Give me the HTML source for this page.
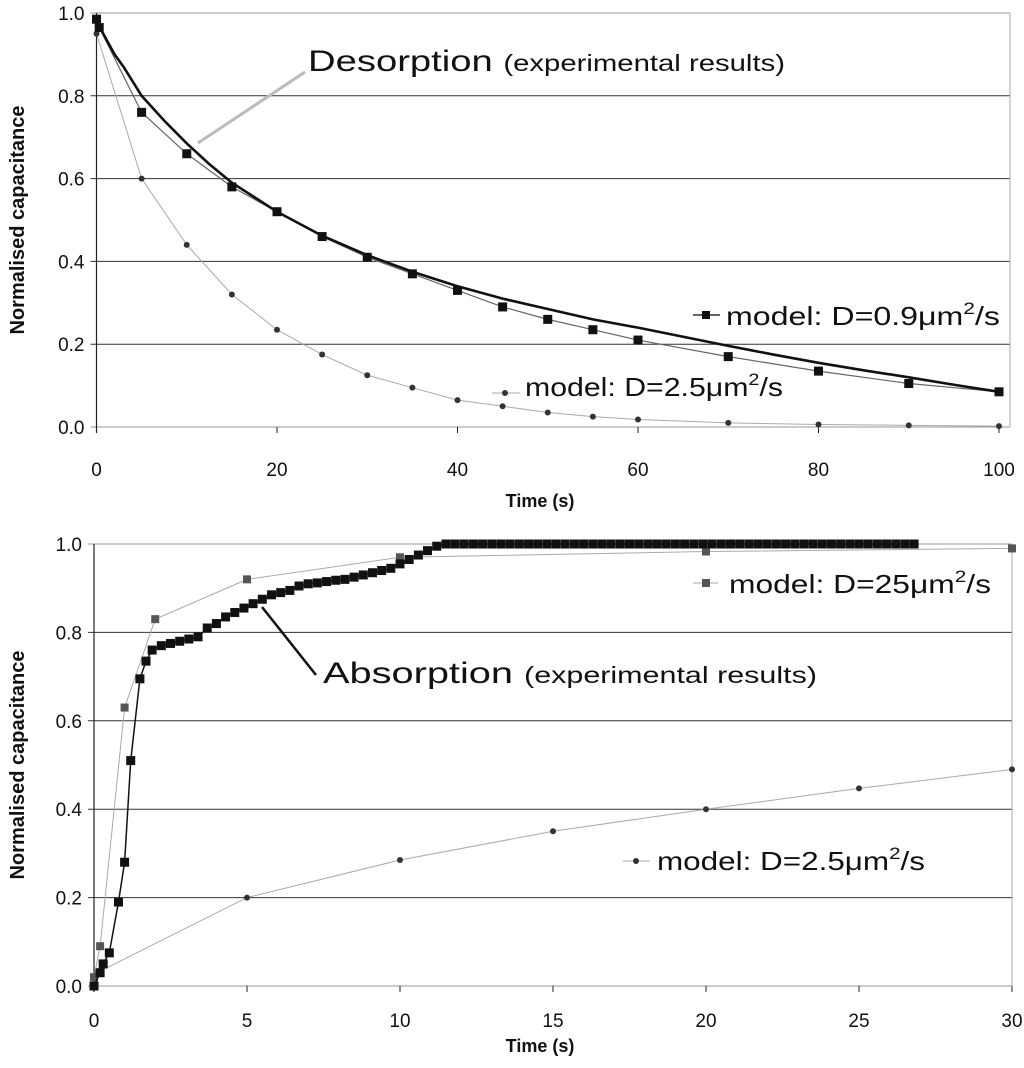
<!DOCTYPE html>
<html><head><meta charset="utf-8"><style>
body{margin:0;background:#fff;}
svg text{font-family:"Liberation Sans",sans-serif;}
</style></head><body>
<svg id="c" width="1024" height="1063" xmlns="http://www.w3.org/2000/svg"></svg>
<script>
// ---- Top chart data (desorption) ----
const topExpT=[0,1,2,3,5,7.5,10,12.5,15,20,25,30,35,40,45,50,55,60,65,70,75,80,85,90,95,100];
const topExpV=[0.98,0.94,0.90,0.87,0.80,0.74,0.685,0.635,0.59,0.52,0.462,0.415,0.375,0.34,0.31,0.285,0.26,0.24,0.218,0.196,0.175,0.155,0.137,0.12,0.102,0.085];
const topM09T=[0,0.3,5,10,15,20,25,30,35,40,45,50,55,60,70,80,90,100];
const topM09V=[0.985,0.965,0.76,0.66,0.58,0.52,0.46,0.41,0.37,0.33,0.29,0.26,0.235,0.21,0.17,0.135,0.105,0.085];
const topM25T=[0,5,10,15,20,25,30,35,40,45,50,55,60,70,80,90,100];
const topM25V=[0.95,0.60,0.44,0.32,0.235,0.175,0.125,0.095,0.065,0.05,0.035,0.025,0.018,0.01,0.006,0.004,0.002];
const topXTicks=[0,20,40,60,80,100];
const yTicks=[0,0.2,0.4,0.6,0.8,1.0];
// ---- Bottom chart data (absorption) ----
const botExpT=[0,0.2,0.3,0.5,0.8,1.0,1.2,1.5,1.7,1.9,2.2,2.5,2.8,3.1,3.4,3.7,4.0,4.3,4.6,4.9,5.2,5.5,5.8,6.1,6.4,6.7,7.0,7.3,7.6,7.9,8.2,8.5,8.8,9.1,9.4,9.7,10.0,10.3,10.6,10.9,11.2,11.5,11.8,12.1,12.4,12.7,13,13.3,13.6,13.9,14.2,14.5,14.8,15.1,15.4,15.7,16,16.3,16.6,16.9,17.2,17.5,17.8,18.1,18.4,18.7,19,19.3,19.6,19.9,20.2,20.5,20.8,21.1,21.4,21.7,22,22.3,22.6,22.9,23.2,23.5,23.8,24.1,24.4,24.7,25,25.3,25.6,25.9,26.2,26.5,26.8];
const botExpV=[0,0.03,0.05,0.075,0.19,0.28,0.51,0.695,0.735,0.76,0.77,0.775,0.78,0.785,0.79,0.81,0.82,0.835,0.845,0.855,0.865,0.875,0.885,0.89,0.895,0.905,0.91,0.912,0.915,0.918,0.92,0.925,0.93,0.935,0.94,0.945,0.955,0.965,0.975,0.985,0.995,1,1,1,1,1,1,1,1,1,1,1,1,1,1,1,1,1,1,1,1,1,1,1,1,1,1,1,1,1,1,1,1,1,1,1,1,1,1,1,1,1,1,1,1,1,1,1,1,1,1,1,1];
const botM25T=[0,0.2,1.0,2,5,10,20,30];
const botM25V=[0.02,0.09,0.63,0.83,0.92,0.97,0.983,0.99];
const botM2T=[0,0.1,5,10,15,20,25,30];
const botM2V=[0.02,0.03,0.20,0.285,0.35,0.40,0.447,0.49];
const botXTicks=[0,5,10,15,20,25,30];

const NS="http://www.w3.org/2000/svg";
const svg=document.getElementById('c');
function mk(tag,attrs,parent){const e=document.createElementNS(NS,tag);for(const k in attrs)e.setAttribute(k,attrs[k]);(parent||svg).appendChild(e);return e;}

function axes(L,R,T,B,xmax){
  return {x:v=>L+(R-L)*v/xmax,y:v=>B-(B-T)*v};
}
function frame(L,R,T,B,ax,xt,g,xoff){
  for(const t of yTicks){
    const l=mk('line',{x1:L-6,x2:R,y1:ax.y(t),y2:ax.y(t),stroke:t==0||t==1?'#999':'#333','stroke-width':1},g);
    
    
    const tx=mk('text',{x:L-12,y:ax.y(t)+7,'text-anchor':'end','font-size':19,fill:'#111'},g);
    tx.textContent=t.toFixed(1);
    
    
  }
  mk('line',{x1:R,x2:R,y1:T,y2:B,stroke:'#aaa'},g);
  mk('line',{x1:L,x2:L,y1:T,y2:B+6,stroke:'#222','stroke-width':1.2},g);
  for(const t of xt){
    mk('line',{x1:ax.x(t),x2:ax.x(t),y1:B,y2:B+6,stroke:'#222'},g);
    const tx=mk('text',{x:ax.x(t),y:B+xoff,'text-anchor':'middle','font-size':19,fill:'#111'},g);
    tx.textContent=t;
    
    
  }
}
function series(ax,T,V,color,w,marker,size,g,name){
  const s=mk('g',{},g);
  
  
  mk('polyline',{points:T.map((t,i)=>ax.x(t)+','+ax.y(V[i])).join(' '),fill:'none',stroke:color,'stroke-width':w},s);
  if(marker)T.forEach((t,i)=>{
    let m;
    if(marker=='sq')m=mk('rect',{x:ax.x(t)-size/2,y:ax.y(V[i])-size/2,width:size,height:size,fill:color=='#aaa'?'#555':'#111'},s);
    else m=mk('circle',{cx:ax.x(t),cy:ax.y(V[i]),r:size/2,fill:'#333'},s);
    
    
  });
}
function txt(x,y,s,size,g,name,anchor,extra){
  const t=mk('text',Object.assign({x:x,y:y,'font-size':size,fill:'#111'},extra||{}),g);
  if(anchor)t.setAttribute('text-anchor',anchor);
  t.innerHTML=s;
  
  
  return t;
}
const SUP='<tspan dy="-11" font-size="17">2</tspan><tspan dy="11">/s</tspan>';

// Top chart
const g1=mk('g',{});


const a1=axes(96.5,999,13,427,100);
frame(96.5,1010,13,427,a1,topXTicks,g1,49);
series(a1,topM25T,topM25V,'#aaa',1,'c',6,g1,'model-d-2.5-series');
series(a1,topM09T,topM09V,'#666',1.2,'sq',9,g1,'model-d-0.9-series');
series(a1,topExpT,topExpV,'#111',2.6,null,0,g1,'desorption-experimental-series');
mk('line',{x1:305,y1:72,x2:198,y2:143,stroke:'#bbb','stroke-width':3},g1);
txt(308,71,'Desorption <tspan font-size="23">(experimental results)</tspan>',30,g1,'desorption-annotation',null,{textLength:477,lengthAdjust:'spacingAndGlyphs'});
mk('line',{x1:693,x2:720,y1:315,y2:315,stroke:'#333','stroke-width':1.5},g1);
mk('rect',{x:702,y:311,width:8,height:8,fill:'#111'},g1);
txt(726,325,'model: D=0.9μm'+SUP,26,g1,'legend-model-d-0.9',null,{textLength:274,lengthAdjust:'spacingAndGlyphs'});
mk('line',{x1:492,x2:520,y1:393,y2:393,stroke:'#aaa'},g1);
mk('circle',{cx:505,cy:393,r:3,fill:'#333'},g1);
txt(525,396,'model: D=2.5μm'+SUP,26,g1,'legend-model-d-2.5',null,{textLength:258,lengthAdjust:'spacingAndGlyphs'});
txt(24,220,'Normalised capacitance',20,g1,'y-axis-title','middle',{'font-weight':'bold',transform:'rotate(-90 24 220)'});
txt(540,507,'Time (s)',18,g1,'x-axis-title','middle',{'font-weight':'bold'});

// Bottom chart
const g2=mk('g',{});


const a2=axes(94,1012,544,986,30);
frame(94,1012,544,986,a2,botXTicks,g2,41);
series(a2,botM2T,botM2V,'#aaa',1,'c',6,g2,'model-d-2.5-series');
series(a2,botM25T,botM25V,'#aaa',1,'sq',8,g2,'model-d-25-series');
series(a2,botExpT,botExpV,'#111',1.5,'sq',9,g2,'absorption-experimental-series');
mk('line',{x1:262,y1:607,x2:316,y2:675,stroke:'#111','stroke-width':2.5},g2);
txt(323,683,'Absorption <tspan font-size="23">(experimental results)</tspan>',30,g2,'absorption-annotation',null,{textLength:494,lengthAdjust:'spacingAndGlyphs'});
mk('line',{x1:693,x2:718,y1:583,y2:583,stroke:'#aaa'},g2);
mk('rect',{x:702,y:579,width:8,height:8,fill:'#555'},g2);
txt(729,593,'model: D=25μm'+SUP,26,g2,'legend-model-d-25',null,{textLength:262,lengthAdjust:'spacingAndGlyphs'});
mk('line',{x1:623,x2:650,y1:861,y2:861,stroke:'#aaa'},g2);
mk('circle',{cx:636,cy:861,r:3,fill:'#333'},g2);
txt(657,870,'model: D=2.5μm'+SUP,26,g2,'legend-model-d-2.5-bottom',null,{textLength:268,lengthAdjust:'spacingAndGlyphs'});
txt(24,765,'Normalised capacitance',20,g2,'y-axis-title','middle',{'font-weight':'bold',transform:'rotate(-90 24 765)'});
txt(540,1052,'Time (s)',18,g2,'x-axis-title','middle',{'font-weight':'bold'});
</script>
</body></html>
